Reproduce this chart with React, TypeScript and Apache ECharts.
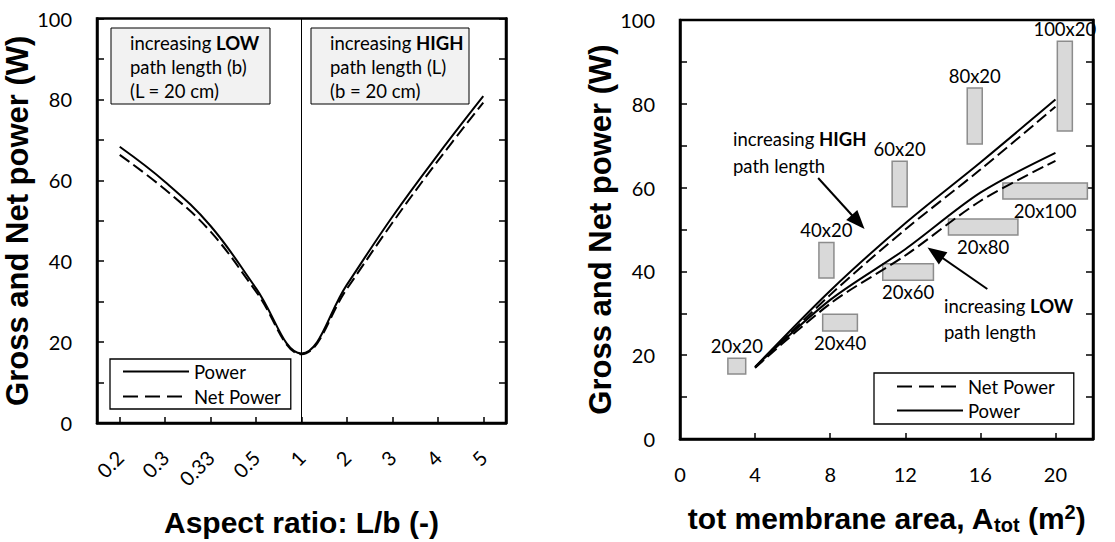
import React, { useEffect, useRef } from "react";
import * as echarts from "echarts";

// ---------- data ----------
const aspectCategories = ["0.2", "0.3", "0.33", "0.5", "1", "2", "3", "4", "5"];
const aspectPower = [68.3, 59.6, 48.7, 33.3, 17.2, 34.2, 51.0, 66.3, 80.8];
const aspectNetPower = [66.3, 57.7, 47.3, 32.5, 17.0, 33.2, 49.5, 64.8, 79.2];

const areaValues = [4, 8, 12, 16, 20];
const highPower = [17.2, 35.4, 51.5, 66.0, 81.0];
const highNetPower = [17.0, 34.4, 50.0, 64.3, 79.3];
const lowPower = [17.2, 33.2, 45.3, 58.8, 68.3];
const lowNetPower = [17.0, 32.3, 43.8, 56.8, 66.4];

const powerTickLabels = [0, 20, 40, 60, 80, 100];
const areaTickLabels = [0, 4, 8, 12, 16, 20];

const cellSizes = ["20x20", "20x40", "40x20", "20x60", "60x20", "20x80", "80x20", "20x100", "100x20"];
const cellAreaRange = [
  [2.55, 3.5], [7.6, 9.45], [7.4, 8.2], [10.8, 13.5], [11.3, 12.1],
  [14.3, 18.0], [15.3, 16.1], [17.2, 21.7], [20.1, 20.9],
];
const cellPowerRange = [
  [15.5, 19.3], [25.8, 29.8], [38.4, 46.9], [37.9, 41.8], [55.4, 66.3],
  [48.7, 52.5], [70.4, 83.8], [57.3, 61.1], [73.5, 94.9],
];
const cellLabelSide = ["top", "bottom", "top", "bottom", "top", "bottom", "top", "bottom", "top"];

// arrows: [from area, from power, to area, to power]
const highArrow = [7.36, 62.3, 9.49, 51.8];
const lowArrow = [16.37, 35.8, 13.6, 44.4];

// ---------- styles ----------
const BODY = "Lato";
const TITLE = "Liberation Sans";
const INK = "#000";
const NOTE_SIZE = 18.5;

const solid = { color: INK, width: 2, type: "solid" as const };
const dashed = { color: INK, width: 2, type: [12, 5] as any };

function valueYAxis(gridIndex: number, position: "left" | "right", withLabels: boolean, nameGap: number) {
  return {
    type: "value",
    gridIndex,
    position,
    min: 0,
    max: 100,
    interval: 10,
    name: withLabels ? "Gross and Net power (W)" : "",
    nameLocation: "middle",
    nameGap,
    nameTextStyle: { fontFamily: TITLE, fontWeight: "bold", fontSize: 31, color: INK },
    axisLine: { show: true, lineStyle: { color: INK, width: 2.5 } },
    axisTick: { show: true, inside: true, length: 7, lineStyle: { color: INK, width: 1.5 } },
    axisLabel: {
      show: withLabels,
      margin: 25,
      fontFamily: BODY,
      fontSize: 20,
      color: INK,
      formatter: (v: number) => (powerTickLabels.includes(v) ? String(v) : ""),
    },
    splitLine: { show: false },
  };
}

function legendBox(names: string[], left: number, top: number, padding: number[], itemGap: number) {
  return {
    data: names.map((name) => ({
      name,
      lineStyle: name === "Net Power" ? { color: INK, width: 2, type: [15, 7] } : { color: INK, width: 2, type: "solid" },
    })),
    left,
    top,
    orient: "vertical",
    padding,
    itemWidth: 66,
    itemHeight: 14,
    itemGap,
    borderColor: INK,
    borderWidth: 1.3,
    borderRadius: 0,
    backgroundColor: "#fff",
    selectedMode: false,
    itemStyle: { color: "transparent", borderColor: "transparent", borderWidth: 0, opacity: 0 },
    textStyle: { fontFamily: BODY, fontSize: NOTE_SIZE, color: INK },
  };
}

function noteStyle(text: string, lineHeight: number) {
  return {
    text,
    fontFamily: BODY,
    fontSize: NOTE_SIZE,
    lineHeight,
    fill: INK,
    rich: { b: { fontFamily: BODY, fontWeight: "bold", fontSize: NOTE_SIZE, lineHeight, fill: INK } },
  };
}

export default function App() {
  const ref = useRef<HTMLDivElement>(null);

  useEffect(() => {
    document.body.style.margin = "0";
    if (!ref.current) return;
    const chart = echarts.init(ref.current, undefined, { renderer: "svg" });

    const option: any = {
      animation: false,
      backgroundColor: "#fff",
      textStyle: { fontFamily: BODY, color: INK },
      grid: [
        { left: 97, top: 18.5, width: 409, height: 412.5, show: true, borderColor: INK, borderWidth: 2.5, backgroundColor: "transparent" },
        { left: 680, top: 20, width: 413, height: 419, show: true, borderColor: INK, borderWidth: 2.5, backgroundColor: "transparent" },
      ],
      xAxis: [
        {
          type: "category",
          gridIndex: 0,
          data: aspectCategories,
          boundaryGap: true,
          name: "Aspect ratio: L/b (-)",
          nameLocation: "middle",
          nameGap: 84,
          nameTextStyle: { fontFamily: TITLE, fontWeight: "bold", fontSize: 30, color: INK },
          axisLine: { show: true, lineStyle: { color: INK, width: 2.5 } },
          axisTick: { show: true, inside: true, alignWithLabel: true, interval: 0, length: 6, lineStyle: { color: INK, width: 1.5 } },
          axisLabel: { interval: 0, rotate: 45, margin: 31, fontFamily: BODY, fontSize: 20, color: INK },
          splitLine: { show: false },
        },
        {
          type: "value",
          gridIndex: 1,
          min: 0,
          max: 22,
          interval: 4,
          name: "tot membrane area, A{sub|tot} (m{sup|2})",
          nameLocation: "middle",
          nameGap: 62,
          nameTextStyle: {
            fontFamily: TITLE,
            fontWeight: "bold",
            fontSize: 30,
            color: INK,
            rich: {
              sub: { fontFamily: TITLE, fontWeight: "bold", fontSize: 20, color: INK, padding: [14, 0, 0, 0] },
              sup: { fontFamily: TITLE, fontWeight: "bold", fontSize: 20, color: INK, padding: [0, 0, 12, 0] },
            },
          },
          axisLine: { show: true, lineStyle: { color: INK, width: 2.5 } },
          axisTick: { show: true, inside: true, length: 6, lineStyle: { color: INK, width: 1.5 } },
          axisLabel: {
            margin: 25,
            fontFamily: BODY,
            fontSize: 20,
            color: INK,
            formatter: (v: number) => (areaTickLabels.includes(v) ? String(v) : ""),
          },
          splitLine: { show: false },
        },
      ],
      yAxis: [
        valueYAxis(0, "left", true, 50),
        valueYAxis(0, "right", false, 0),
        valueYAxis(1, "left", true, 46),
        valueYAxis(1, "right", false, 0),
      ],
      legend: [
        legendBox(["Power", "Net Power"], 110, 359, [3, 10, 3, 12], 6),
        legendBox(["Net Power", "Power"], 874, 373, [4, 19, 4, 22], 5),
      ],
      series: [
        {
          name: "Power",
          type: "line",
          xAxisIndex: 0,
          yAxisIndex: 0,
          data: aspectPower,
          smooth: 0.4,
          symbol: "none",
          lineStyle: solid,
          itemStyle: { color: INK },
          markLine: {
            silent: true,
            symbol: ["none", "none"],
            label: { show: false },
            lineStyle: { color: INK, width: 1, type: "solid" },
            data: [{ xAxis: aspectCategories[4] }],
          },
        },
        {
          name: "Net Power",
          type: "line",
          xAxisIndex: 0,
          yAxisIndex: 0,
          data: aspectNetPower,
          smooth: 0.4,
          symbol: "none",
          lineStyle: dashed,
          itemStyle: { color: INK },
        },
        {
          name: "Power",
          type: "line",
          xAxisIndex: 1,
          yAxisIndex: 2,
          data: areaValues.map((a, i) => [a, highPower[i]]),
          smooth: 0.3,
          symbol: "none",
          lineStyle: solid,
          itemStyle: { color: INK },
          z: 5,
          markArea: {
            silent: true,
            itemStyle: { color: "#d9d9d9", borderColor: "#8c8c8c", borderWidth: 1.5, opacity: 1 },
            label: { show: true, color: INK, fontFamily: BODY, fontSize: NOTE_SIZE, distance: 2 },
            data: cellSizes.map((name, i) => [
              {
                name,
                xAxis: cellAreaRange[i][0],
                yAxis: cellPowerRange[i][1],
                label: { position: cellLabelSide[i] },
              },
              { xAxis: cellAreaRange[i][1], yAxis: cellPowerRange[i][0] },
            ]),
          },
        },
        {
          name: "Net Power",
          type: "line",
          xAxisIndex: 1,
          yAxisIndex: 2,
          data: areaValues.map((a, i) => [a, highNetPower[i]]),
          smooth: 0.3,
          symbol: "none",
          lineStyle: dashed,
          itemStyle: { color: INK },
          z: 5,
          markLine: {
            silent: true,
            symbol: ["none", "triangle"],
            symbolSize: [15, 19],
            label: { show: false },
            lineStyle: { color: INK, width: 2, type: "solid" },
            itemStyle: { color: INK },
            data: [
              [{ coord: [highArrow[0], highArrow[1]] }, { coord: [highArrow[2], highArrow[3]] }],
              [{ coord: [lowArrow[0], lowArrow[1]] }, { coord: [lowArrow[2], lowArrow[3]] }],
            ],
          },
        },
        {
          name: "Power",
          type: "line",
          xAxisIndex: 1,
          yAxisIndex: 2,
          data: areaValues.map((a, i) => [a, lowPower[i]]),
          smooth: 0.3,
          symbol: "none",
          lineStyle: solid,
          itemStyle: { color: INK },
          z: 5,
        },
        {
          name: "Net Power",
          type: "line",
          xAxisIndex: 1,
          yAxisIndex: 2,
          data: areaValues.map((a, i) => [a, lowNetPower[i]]),
          smooth: 0.3,
          symbol: "none",
          lineStyle: dashed,
          itemStyle: { color: INK },
          z: 5,
        },
      ],
      graphic: [
        {
          type: "rect",
          shape: { x: 111, y: 28, width: 159, height: 76 },
          style: { fill: "#f2f2f2", stroke: INK, lineWidth: 1 },
          z: 10,
        },
        { type: "text", x: 130, y: 31, z: 11, style: noteStyle("increasing {b|LOW}\npath length (b)\n(L = 20 cm)", 24) },
        {
          type: "rect",
          shape: { x: 311, y: 28, width: 158, height: 76 },
          style: { fill: "#f2f2f2", stroke: INK, lineWidth: 1 },
          z: 10,
        },
        { type: "text", x: 330, y: 31, z: 11, style: noteStyle("increasing {b|HIGH}\npath length (L)\n(b = 20 cm)", 24) },
        { type: "text", x: 733, y: 125, z: 11, style: noteStyle("increasing {b|HIGH}\npath length", 27) },
        { type: "text", x: 944, y: 293, z: 11, style: noteStyle("increasing {b|LOW}\npath length", 26) },
      ],
    };

    chart.setOption(option);
    return () => {
      chart.dispose();
    };
  }, []);

  return <div ref={ref} style={{ width: 1115, height: 542 }} />;
}
